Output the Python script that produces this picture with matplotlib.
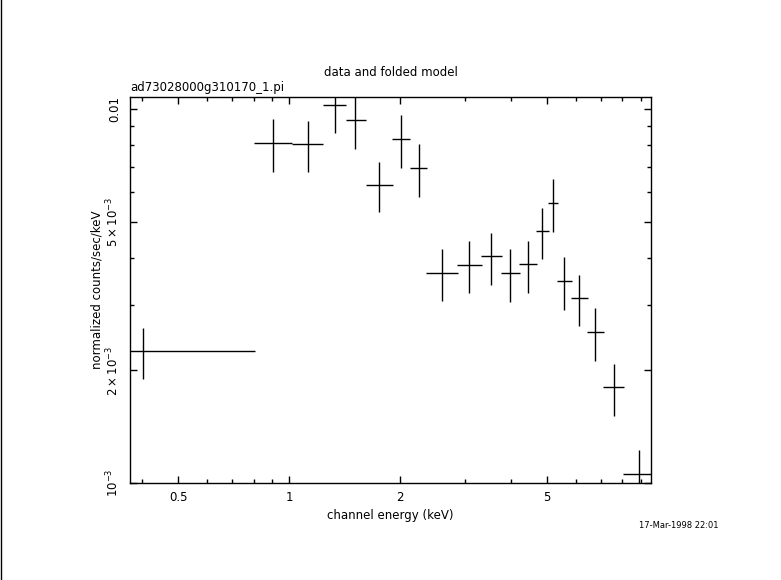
import matplotlib
matplotlib.use("Agg")
import matplotlib.pyplot as plt
import numpy as np
from matplotlib.lines import Line2D
from matplotlib.ticker import FixedLocator, NullFormatter

# channel energy (keV): centre and bin edges
energy = [0.402, 0.905, 1.126, 1.330, 1.51, 1.751, 2.005, 2.243, 2.600, 3.077,
          3.530, 3.976, 4.448, 4.855, 5.200, 5.569, 6.115, 6.767, 7.583, 8.896]
energy_lo = [0.30, 0.802, 1.015, 1.236, 1.422, 1.612, 1.899, 2.125, 2.348, 2.855,
             3.311, 3.755, 4.197, 4.667, 5.040, 5.312, 5.807, 6.418, 7.092, 8.035]
energy_hi = [0.807, 1.015, 1.236, 1.422, 1.612, 1.908, 2.125, 2.363, 2.861, 3.325,
             3.767, 4.224, 4.689, 5.062, 5.355, 5.844, 6.458, 7.124, 8.085, 9.80]

# normalized counts/sec/keV with error limits
counts = [2.254e-3, 8.11e-3, 8.04e-3, 10.25e-3, 9.33e-3, 6.25e-3, 8.30e-3, 6.94e-3,
          3.637e-3, 3.821e-3, 4.038e-3, 3.637e-3, 3.845e-3, 4.719e-3, 5.596e-3,
          3.461e-3, 3.125e-3, 2.529e-3, 1.803e-3, 1.057e-3]
counts_lo = [1.90e-3, 6.80e-3, 6.80e-3, 8.61e-3, 7.81e-3, 5.31e-3, 6.97e-3, 5.83e-3,
             3.073e-3, 3.228e-3, 3.390e-3, 3.055e-3, 3.228e-3, 3.963e-3, 4.698e-3,
             2.907e-3, 2.634e-3, 2.126e-3, 1.514e-3, 0.889e-3]
counts_hi = [2.597e-3, 9.40e-3, 9.29e-3, 11.9e-3, 10.9e-3, 7.20e-3, 9.64e-3, 8.08e-3,
             4.222e-3, 4.437e-3, 4.662e-3, 4.222e-3, 4.437e-3, 5.426e-3, 6.498e-3,
             4.021e-3, 3.600e-3, 2.937e-3, 2.081e-3, 1.225e-3]

x_major = [0.5, 1, 2, 5]
x_major_labels = ["0.5", "1", "2", "5"]
x_minor = [0.4, 0.6, 0.7, 0.8, 0.9, 3, 4, 6, 7, 8, 9]
y_major = [1e-3, 2e-3, 5e-3, 1e-2]
y_major_labels = [r"$10^{-3}$", r"$2\times10^{-3}$", r"$5\times10^{-3}$", "0.01"]
y_minor = [3e-3, 4e-3, 6e-3, 7e-3, 8e-3, 9e-3]

plt.rcParams['font.family'] = ['DejaVu Sans']
plt.rcParams['mathtext.fontset'] = 'dejavusans'

fig = plt.figure(figsize=(7.81, 5.80), dpi=100)
ax = fig.add_axes([130 / 781, 97 / 580, 521 / 781, 386 / 580])

e = np.array(energy)
c = np.array(counts)
xerr = [e - np.array(energy_lo), np.array(energy_hi) - e]
yerr = [c - np.array(counts_lo), np.array(counts_hi) - c]
ax.errorbar(e, c, xerr=xerr, yerr=yerr, fmt='none', ecolor='black',
            elinewidth=1.0, capsize=0)

ax.set_xscale('log')
ax.set_yscale('log')
ax.set_xlim(0.370, 9.57)
ax.set_ylim(1e-3, 0.01077)

ax.xaxis.set_major_locator(FixedLocator(x_major))
ax.xaxis.set_minor_locator(FixedLocator(x_minor))
ax.set_xticklabels(x_major_labels)
ax.xaxis.set_minor_formatter(NullFormatter())
ax.yaxis.set_major_locator(FixedLocator(y_major))
ax.yaxis.set_minor_locator(FixedLocator(y_minor))
ax.set_yticklabels(y_major_labels, rotation=90, va='center')
ax.yaxis.set_minor_formatter(NullFormatter())

ax.tick_params(which='both', direction='in', top=True, right=True,
               labelsize=8.5, width=1.0)
ax.tick_params(which='major', length=5, pad=6)
ax.tick_params(which='minor', length=3)
for s in ax.spines.values():
    s.set_linewidth(1.0)

ax.set_xlabel("channel energy (keV)", fontsize=8.5, labelpad=3)
ax.set_ylabel("normalized counts/sec/keV", fontsize=8.5, labelpad=1)
ax.set_title("data and folded model", fontsize=8.5, pad=15)
ax.text(0.0, 1.008, "ad73028000g310170_1.pi", transform=ax.transAxes,
        ha='left', va='bottom', fontsize=8.5)

fig.text(679 / 781, 1 - 525 / 580, "17-Mar-1998 22:01", ha='center',
         va='center', fontsize=6)
fig.add_artist(Line2D([0.6 / 781, 0.6 / 781], [0, 1], color='black', lw=1.0))

fig.savefig("out.png", dpi=100)
